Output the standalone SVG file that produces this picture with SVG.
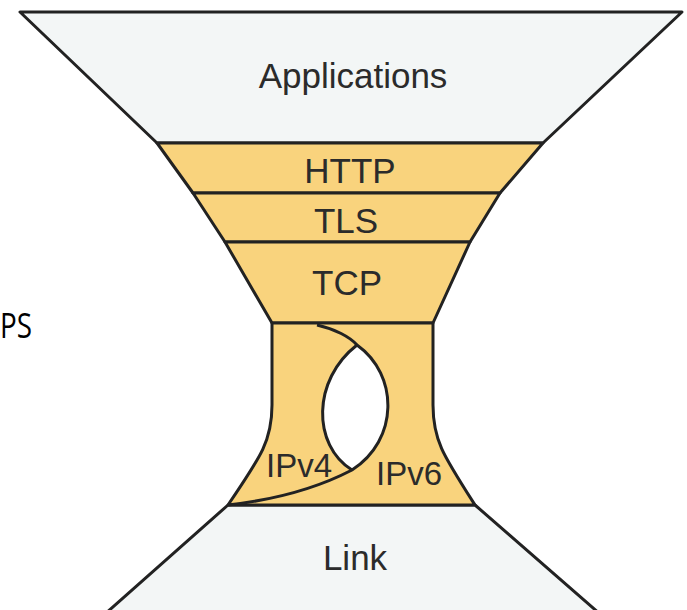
<svg xmlns="http://www.w3.org/2000/svg" width="687" height="610" viewBox="0 0 687 610">
<style>
.gray{fill:#f3f6f6;stroke:#222;stroke-width:3;stroke-linejoin:round}
.orange{fill:#f9d37d;stroke:#222;stroke-width:3;stroke-linejoin:round}
.line{fill:none;stroke:#222;stroke-width:3}
.lbl{font-family:"Liberation Sans",Arial,sans-serif;font-size:35px;fill:#2b2b2b;text-anchor:middle}
</style>
<rect width="687" height="610" fill="#ffffff"/>
<g id="node-applications">
<path class="gray" d="M20,12 L682,12 L543,143 L157,143 Z"/>
<text class="lbl" x="353" y="88">Applications</text>
</g>
<g id="node-http">
<path class="orange" d="M157,143 L543,143 L500,193 L193,193 Z"/>
<text class="lbl" x="350" y="183">HTTP</text>
</g>
<g id="node-tls">
<path class="orange" d="M193,193 L500,193 L470,242 L225,242 Z"/>
<text class="lbl" x="346" y="233">TLS</text>
</g>
<g id="node-tcp">
<path class="orange" d="M225,242 L470,242 L433,323 L272,323 Z"/>
<text class="lbl" x="347" y="295">TCP</text>
</g>
<g id="node-link">
<path class="gray" d="M228,505 L475,505 L600,614 L105,614 Z"/>
<text class="lbl" x="355" y="570">Link</text>
</g>
<g id="node-ip">
<path class="orange" d="M272,323 L433,323 L433,405 C433,440 443,455 475,505 L228,505 C262,455 272,440 272,405 Z"/>
<path d="M357,345 C399,375 399,440 352,470 C312,445 312,380 357,345 Z" fill="#ffffff" stroke="none"/>
<path class="line" d="M317,325 C335,329 350,337 357,345 C399,375 399,440 352,470 Q300,497 228,505"/>
<path class="line" d="M357,345 C312,380 312,445 352,470"/>
<text class="lbl" x="299" y="477" style="font-size:33px">IPv4</text>
<text class="lbl" x="409" y="485" style="font-size:33px">IPv6</text>
</g>
<g id="connectors"></g>
<text x="0" y="338" font-family="'Open Sans','Noto Sans',sans-serif" font-size="34" fill="#000" textLength="32" lengthAdjust="spacingAndGlyphs">PS</text>
</svg>
